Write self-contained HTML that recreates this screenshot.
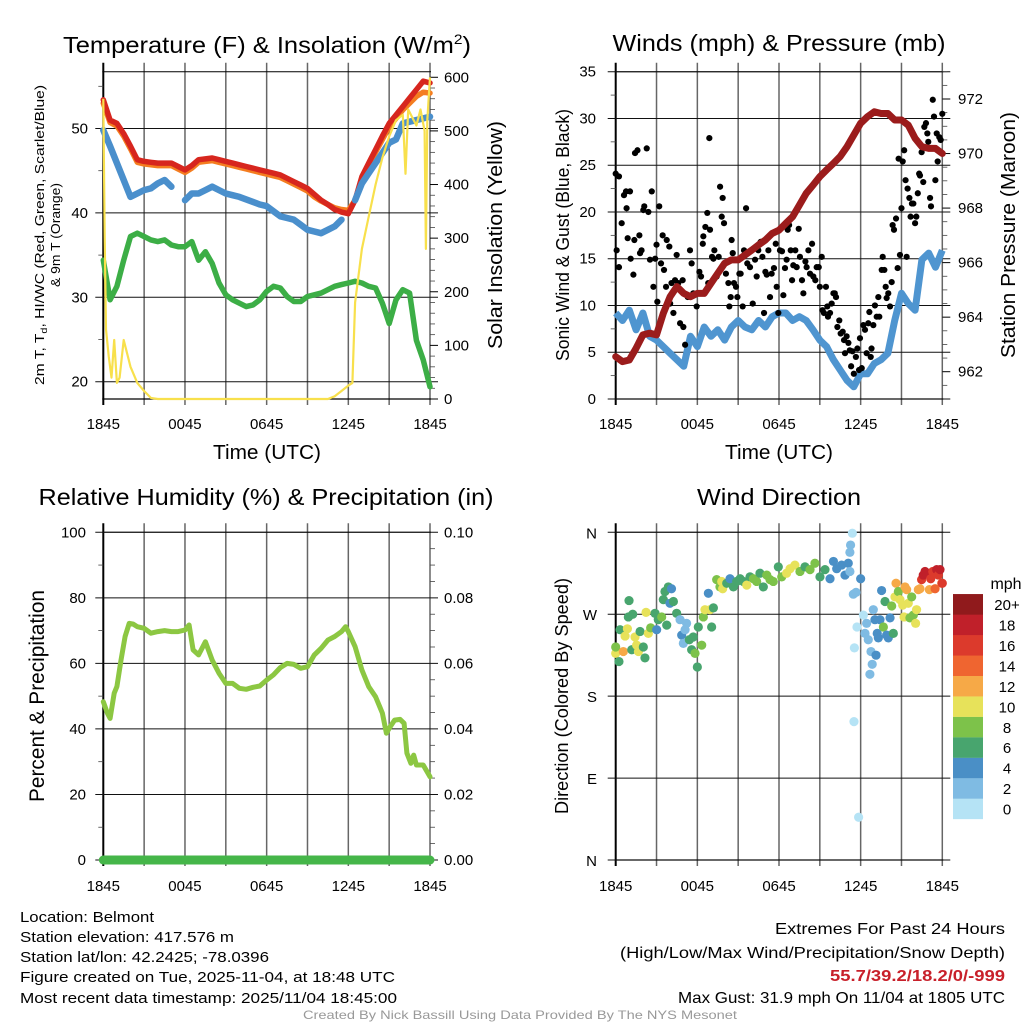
<!DOCTYPE html>
<html><head><meta charset="utf-8"><style>
html,body{margin:0;padding:0;background:#fff;}
svg{display:block;font-family:"Liberation Sans",Arial,sans-serif;}
</style></head><body>
<svg id="fig" width="1024" height="1024" viewBox="0 0 1024 1024" xmlns="http://www.w3.org/2000/svg">
<rect x="0" y="0" width="1024" height="1024" fill="#fff"/>
<!-- titles -->
<text x="267" y="53" font-size="23" text-anchor="middle" textLength="408" lengthAdjust="spacingAndGlyphs">Temperature (F) &amp; Insolation (W/m<tspan font-size="14" dy="-9">2</tspan><tspan dy="9">)</tspan></text>
<text x="779" y="51" font-size="23" text-anchor="middle" textLength="333" lengthAdjust="spacingAndGlyphs">Winds (mph) &amp; Pressure (mb)</text>
<text x="266" y="505" font-size="23" text-anchor="middle" textLength="455" lengthAdjust="spacingAndGlyphs">Relative Humidity (%) &amp; Precipitation (in)</text>
<text x="779" y="505" font-size="23" text-anchor="middle" textLength="164" lengthAdjust="spacingAndGlyphs">Wind Direction</text>
<!-- axis titles -->
<text transform="translate(44,235) rotate(-90)" font-size="13" text-anchor="middle" textLength="300" lengthAdjust="spacingAndGlyphs">2m T, T<tspan font-size="9" dy="3">d</tspan><tspan dy="-3">, HI/WC (Red, Green, Scarlet/Blue)</tspan></text>
<text transform="translate(60,235) rotate(-90)" font-size="13" text-anchor="middle" textLength="104" lengthAdjust="spacingAndGlyphs">&amp; 9m T (Orange)</text>
<text transform="translate(502,235) rotate(-90)" font-size="20" text-anchor="middle" textLength="228" lengthAdjust="spacingAndGlyphs">Solar Insolation (Yellow)</text>
<text transform="translate(569,235) rotate(-90)" font-size="18" text-anchor="middle" textLength="252" lengthAdjust="spacingAndGlyphs">Sonic Wind &amp; Gust (Blue, Black)</text>
<text transform="translate(1015,235) rotate(-90)" font-size="20" text-anchor="middle" textLength="246" lengthAdjust="spacingAndGlyphs">Station Pressure (Maroon)</text>
<text transform="translate(44,696) rotate(-90)" font-size="21" text-anchor="middle" textLength="212" lengthAdjust="spacingAndGlyphs">Percent &amp; Precipitation</text>
<text transform="translate(568,696) rotate(-90)" font-size="18" text-anchor="middle" textLength="236" lengthAdjust="spacingAndGlyphs">Direction (Colored By Speed)</text>
<text x="267" y="459" font-size="20" text-anchor="middle" textLength="108" lengthAdjust="spacingAndGlyphs">Time (UTC)</text>
<text x="779" y="459" font-size="20" text-anchor="middle" textLength="108" lengthAdjust="spacingAndGlyphs">Time (UTC)</text>
<!-- footer -->
<g font-size="15">
<text x="20" y="922" textLength="134" lengthAdjust="spacingAndGlyphs">Location: Belmont</text>
<text x="20" y="942" textLength="214" lengthAdjust="spacingAndGlyphs">Station elevation: 417.576 m</text>
<text x="20" y="962" textLength="249" lengthAdjust="spacingAndGlyphs">Station lat/lon: 42.2425; -78.0396</text>
<text x="20" y="982" textLength="375" lengthAdjust="spacingAndGlyphs">Figure created on Tue, 2025-11-04, at 18:48 UTC</text>
<text x="20" y="1003" textLength="377" lengthAdjust="spacingAndGlyphs">Most recent data timestamp: 2025/11/04 18:45:00</text>
</g>
<g font-size="16" text-anchor="end">
<text x="1005" y="934" textLength="230" lengthAdjust="spacingAndGlyphs">Extremes For Past 24 Hours</text>
<text x="1005" y="958" textLength="385" lengthAdjust="spacingAndGlyphs">(High/Low/Max Wind/Precipitation/Snow Depth)</text>
<text x="1005" y="981" font-weight="bold" fill="#c8202a" textLength="175" lengthAdjust="spacingAndGlyphs">55.7/39.2/18.2/0/-999</text>
<text x="1005" y="1003" textLength="327" lengthAdjust="spacingAndGlyphs">Max Gust: 31.9 mph On 11/04 at 1805 UTC</text>
</g>
<text x="520" y="1019" font-size="12" fill="#999" text-anchor="middle" textLength="434" lengthAdjust="spacingAndGlyphs">Created By Nick Bassill Using Data Provided By The NYS Mesonet</text>
<g id="layer"></g>
</svg>
<script>
// ---------- data ----------
const xTickLabels = ["1845","0045","0645","1245","1845"];
const hrsHalf = [0,0.5,1,1.5,2,2.5,3,3.5,4,4.5,5,5.5,6,6.5,7,7.5,8,8.5,9,9.5,10,10.5,11,11.5,12,12.5,13,13.5,14,14.5,15,15.5,16,16.5,17,17.5,18,18.5,19,19.5,20,20.5,21,21.5,22,22.5,23,23.5,24];
const tempRed = [53.4,51.0,50.6,49.4,47.9,46.3,46.1,46.0,45.9,45.9,45.9,45.5,45.1,45.6,46.3,46.4,46.5,46.3,46.1,45.9,45.7,45.5,45.3,45.1,44.9,44.7,44.5,44.1,43.7,43.3,42.9,42.2,41.5,41.0,40.4,40.1,39.9,41.5,44.3,45.9,47.5,49.1,50.6,51.6,52.6,53.6,54.6,55.6,55.4];
const tempOrange = [53.0,50.7,50.3,49.1,47.6,46.0,45.8,45.7,45.6,45.6,45.6,45.2,44.8,45.3,46.0,46.1,46.2,46.0,45.8,45.6,45.4,45.2,45.0,44.8,44.6,44.4,44.2,43.8,43.4,43.0,42.6,41.9,41.4,41.0,40.6,40.4,40.3,41.5,44.0,45.6,47.2,48.7,50.2,51.2,52.2,53.0,53.8,54.3,54.2];
const tempBlue = [49.8,47.9,45.9,43.9,41.9,42.3,42.7,42.9,43.5,43.9,43.1,null,41.5,42.3,42.3,42.7,43.1,42.7,42.3,42.1,41.9,41.6,41.3,41.0,40.8,40.2,39.6,39.4,39.2,38.6,38.0,37.8,37.6,38.0,38.4,39.2,null,41.5,43.5,44.7,45.9,47.1,48.3,48.7,50.6,50.8,51.0,51.2,51.4];
const dewGreen = [34.4,29.7,31.3,34.4,37.2,37.6,37.2,36.8,36.6,36.8,36.2,36.0,36.0,36.6,34.4,35.4,34.0,31.7,30.3,29.7,29.3,28.9,29.1,29.7,30.7,31.3,31.1,30.1,29.5,29.5,30.1,30.3,30.5,30.9,31.3,31.5,31.7,31.9,31.7,31.3,31.1,29.3,26.9,29.7,30.9,30.5,24.9,22.6,19.4];
const solarHours = [0,0.1,0.2,0.4,0.6,0.8,1,1.2,1.5,1.8,2,2.5,3,3.5,4,16.5,17,17.5,18,18.3,18.5,19,19.5,20,20.5,21,21.5,22,22.2,22.4,23,23.3,23.6,23.7,23.8,24];
const solarWm2 = [560,300,130,80,40,110,30,40,110,80,60,30,15,2,0,0,5,15,25,30,180,280,340,400,450,490,520,530,420,540,510,540,500,280,520,600];
const windSpeed = [9.2,8.4,9.5,7.4,9.2,6.7,6.3,5.6,4.9,4.2,3.5,6.7,5.6,7.7,6.7,7.4,6.3,7.7,8.4,7.7,7.4,8.4,7.7,8.8,9.2,9.2,8.4,8.8,8.4,7.4,6.3,5.6,4.2,3.1,2.0,1.3,2.7,2.7,3.8,4.2,4.9,8.4,11.3,10.2,9.5,14.9,15.6,14.1,15.9];
const pressureMb = [962.55,962.37,962.43,962.86,963.35,963.41,963.35,964.14,964.75,965.12,964.87,964.75,964.87,964.87,965.24,965.61,965.97,966.1,966.1,966.28,966.46,966.65,966.83,967.07,967.19,967.44,967.68,968.11,968.54,968.84,969.15,969.4,969.64,969.89,970.25,970.68,971.11,971.35,971.53,971.47,971.47,971.23,971.23,971.04,970.56,970.25,970.19,970.19,970.0];
const gustHours = [0,0.24,0.07,0.24,0.44,0.61,0.76,0.8,0.88,1.05,1.1,1.3,1.37,1.42,1.6,1.74,1.79,1.9,2.03,2.1,2.28,2.4,2.52,2.65,2.77,2.9,3.0,3.06,3.2,3.33,3.45,3.55,3.7,3.75,3.94,4.0,4.1,4.24,4.36,4.48,4.6,4.73,4.92,4.97,5.1,5.3,5.46,5.58,5.7,5.95,6.15,6.27,6.4,6.44,6.59,6.73,6.8,6.88,6.93,7.08,7.18,7.25,7.42,7.57,7.67,7.79,7.86,7.96,8.1,8.28,8.35,8.45,8.52,8.6,8.69,8.84,8.94,9.09,9.18,9.33,9.43,9.58,9.67,9.87,10.07,10.24,10.36,10.48,10.65,10.78,10.9,11.0,11.1,11.22,11.34,11.46,11.63,11.76,11.83,11.95,12.07,12.22,12.32,12.44,12.56,12.64,12.74,12.86,12.96,13.05,13.2,13.3,13.45,13.54,13.69,13.79,13.94,14.03,14.16,14.28,14.43,14.52,14.67,14.77,14.92,15.0,15.14,15.2,15.3,15.45,15.55,15.6,15.75,15.87,16.0,16.1,16.19,16.29,16.43,16.53,16.68,16.78,16.85,16.97,17.1,17.2,17.3,17.4,17.5,17.65,17.76,17.88,17.95,18.08,18.2,18.32,18.44,18.56,18.64,18.74,18.8,18.93,19.05,19.18,19.3,19.37,19.55,19.62,19.74,19.84,19.91,20.03,20.16,20.28,20.35,20.45,20.6,20.72,20.79,20.89,21.0,21.09,21.2,21.3,21.38,21.45,21.58,21.67,21.77,21.87,22.0,22.09,22.2,22.3,22.36,22.48,22.6,22.68,22.8,22.9,22.97,23.1,23.17,23.3,23.39,23.49,23.59,23.66,23.78,23.88,24.0];
const gustMph = [24.1,23.8,15.9,14.1,18.8,21.8,22.2,20.4,17.2,22.2,15.0,13.3,17.0,26.3,26.6,17.5,15.6,15.9,20.2,20.6,26.8,20.0,14.9,22.2,12.0,15.0,16.5,10.4,20.6,14.5,17.5,13.8,12.0,17.0,16.3,10.2,12.4,9.2,12.7,15.4,12.4,8.1,12.7,7.7,5.8,10.9,15.9,14.5,11.3,9.9,13.6,13.1,16.6,17.4,18.4,19.9,12.4,27.9,18.1,15.2,15.0,15.9,13.1,15.2,22.7,19.5,21.5,18.8,13.4,12.4,9.9,10.9,17.0,15.6,12.4,12.0,10.9,13.4,13.4,9.9,15.9,20.4,14.5,14.1,10.2,14.9,13.1,15.9,16.8,15.2,9.2,13.6,13.3,15.9,10.9,13.4,14.0,16.6,12.0,9.2,15.9,15.8,11.1,14.0,14.9,18.1,18.6,15.9,12.7,14.3,15.9,14.1,18.2,15.2,12.7,11.3,14.7,14.1,15.9,13.4,16.6,13.1,12.7,14.1,14.1,12.0,15.2,9.5,9.2,12.0,9.9,8.8,9.2,10.2,11.3,11.3,10.9,7.7,8.4,7.0,7.2,6.3,4.9,6.7,6.0,5.2,3.5,5.1,2.7,4.5,5.4,3.1,6.5,3.3,7.9,7.4,4.9,8.1,9.3,4.5,5.4,7.9,10.0,8.8,10.9,8.8,13.8,15.2,13.8,12.0,10.8,11.3,9.9,12.5,18.6,18.1,19.3,14.0,25.7,15.4,20.4,25.4,26.6,23.4,15.2,22.5,21.5,19.5,20.9,20.9,18.8,19.5,22.0,24.1,23.9,26.4,23.2,29.1,29.5,28.4,27.5,21.5,20.6,32.0,30.2,23.4,28.4,25.4,28.0,27.7,30.5];
const rhHours = [0,0.3,0.5,0.8,1,1.3,1.6,1.9,2.2,2.5,3,3.5,4,4.5,5,5.5,6,6.3,6.6,7,7.5,8,8.5,9,9.5,10,10.5,11,11.5,12,12.5,13,13.5,14,14.5,15,15.5,16,16.5,17,17.5,17.8,18,18.5,19,19.5,20,20.5,20.8,21,21.4,21.8,22.1,22.3,22.6,22.8,23,23.5,24];
const rhPct = [48.3,44.8,43.2,50.9,52.9,61,68.2,72.2,72,71.2,70.7,69.2,69.7,70,69.7,69.7,70.2,71.7,64.1,62.6,66.6,61,57,53.9,53.9,52.4,52.1,52.7,53.1,54.9,56.5,58.7,60,59.7,58.5,59,62.6,64.6,67.1,68.2,69.7,71.2,69.7,65.1,58,52.9,49.8,44.8,38.7,40.2,42.7,42.9,41.7,32.6,29.5,32,29,29,25.4];
const precipHours = [0,24];
const precipIn = [0,0];
const dirHours = [0,0,0.24,0.32,0.56,0.69,0.86,0.98,0.93,1.25,1.18,1.42,1.54,1.67,1.79,2.03,2.15,2.23,2.4,2.57,2.89,3.01,3.13,3.38,3.5,3.62,3.75,3.87,3.99,4.1,4.24,4.48,4.73,4.85,4.97,5.1,5.21,5.41,5.58,5.7,5.83,6.0,6.07,6.32,6.44,6.56,6.81,6.93,7.05,7.18,7.42,7.66,7.79,7.86,8.16,8.4,8.65,8.89,9.14,9.38,9.63,9.87,10.12,10.36,10.6,10.85,11.1,11.34,11.58,11.95,12.2,12.56,12.81,13.17,13.54,13.91,14.28,14.64,15.01,15.38,15.75,16.0,16.24,16.6,16.85,17.09,17.21,17.21,17.26,17.39,17.46,17.66,18.0,17.54,17.73,17.51,17.85,18.2,18.32,18.44,18.56,18.68,18.76,18.85,18.93,19.05,19.13,19.22,19.3,19.42,19.54,19.67,19.79,19.91,20.03,20.16,20.28,20.4,20.52,20.6,20.77,20.89,21.09,21.19,21.26,21.38,21.5,21.62,21.75,21.87,22.04,22.11,22.24,22.36,22.48,22.6,22.73,22.85,23.05,23.15,23.3,23.47,23.59,23.71,23.83,23.96,24.0];
const dirDeg = [227,234,218,253,229,246,254,285,267,270,231,245,236,229,251,234,222,272,249,255,271,253,264,267,286,295,258,300,282,298,284,271,264,247,238,253,260,242,231,245,227,212,256,236,267,275,293,275,256,277,308,300,306,298,304,309,300,306,309,306,302,311,309,306,315,300,313,308,306,322,311,315,320,324,317,322,319,326,311,319,309,328,320,324,313,326,317,338,346,359,292,294,309,233,256,152,47,269,249,260,242,204,229,215,275,264,225,249,244,264,296,256,284,247,244,266,279,249,289,304,295,286,280,267,300,297,282,266,289,269,260,275,297,298,308,313,317,315,297,309,317,298,319,313,319,304,304];
const dirSpeed = [10,9,7,7,12,10,10,7,6,6,6,10,10,10,6,6,7,10,10,8,6,4,7,8,6,7,6,6,4,4,6,6,2,4,2,2,2,6,6,6,8,6,6,8,8,10,4,10,6,6,8,8,10,10,6,4,6,6,6,6,10,6,8,8,6,6,8,8,8,6,8,10,10,10,8,6,8,8,6,6,4,4,4,4,4,4,2,2,2,0,2,2,4,0,0,0,0,0,2,2,2,2,2,2,2,4,4,4,4,4,4,8,6,4,4,4,8,6,10,12,8,10,10,10,12,12,10,8,8,8,10,10,12,12,16,18,18,18,12,16,16,14,18,16,18,14,16];
const speedBinLabels = ["0","2","4","6","8","10","12","14","16","18","20+"];
const speedBinColors = ["#b5e3f5","#7fbbe3","#4a8fc6","#48a56e","#7dc24a","#e7e25a","#f6a947","#ef6530","#dc3a2c","#c0202a","#901a1c"];

// ---------- helpers ----------
const NS="http://www.w3.org/2000/svg";
const layer=document.getElementById('layer');
function mk(tag,attrs,parent){const e=document.createElementNS(NS,tag);for(const k in attrs)e.setAttribute(k,attrs[k]);(parent||layer).appendChild(e);return e;}
const LP={L:103.3,R:430}, RP={L:615.7,R:942.3};
function xsL(h){return LP.L+h/24*(LP.R-LP.L);}
function xsR(h){return RP.L+h/24*(RP.R-RP.L);}
function yTemp(t){return 381.7-(t-20)*8.44;}
function ySolar(w){return 399-w*0.5362;}
function yWind(m){return 399-m*9.351;}
function yPres(p){return 371.7-(p-962)*27.27;}
function yRH(r){return 860-r*3.277;}
function yPrec(v){return 860-v*3277;}
function yDir(d){return 860-d*(327.7/360);}

function frame(P,top,bot,name){
  const g=mk('g',{});
  
  
  for(let i=0;i<=8;i++){
    const x=P.L+i*(P.R-P.L)/8;
    const l=mk('line',{x1:x,x2:x,y1:top-9,y2:bot+6,stroke:(i==0?'#000':'#666'),'stroke-width':(i==0?2:1.5)},g);
    
    
  }
  mk('line',{x1:P.L-1,x2:P.R+1,y1:top,y2:top,stroke:'#000','stroke-width':1},g);
  mk('line',{x1:P.L-1,x2:P.R+1,y1:bot,y2:bot,stroke:'#000','stroke-width':1.2},g);
  return g;
}
function hline(P,y,g){mk('line',{x1:P.L-8,x2:P.R+8,y1:y,y2:y,stroke:'#111','stroke-width':1},g);}
function minorL(P,y,g){mk('line',{x1:P.L-5,x2:P.L,y1:y,y2:y,stroke:'#444','stroke-width':0.8},g);}
function minorR(P,y,g){mk('line',{x1:P.R,x2:P.R+5,y1:y,y2:y,stroke:'#444','stroke-width':0.8},g);}
function txt(x,y,s,size,anchor,name,g){const t=mk('text',{x:x,y:y,'font-size':size,'text-anchor':anchor},g);t.textContent=s;return t;}
function xTicks(P,y,g,name){xTickLabels.forEach((s,i)=>{txt(P.L+i*(P.R-P.L)/4,y,s,15,'middle',name,g);});}
function pathFrom(hs,vs,xf,yf){let d='',pen=false;for(let i=0;i<hs.length;i++){if(vs[i]==null){pen=false;continue;}d+=(pen?'L':'M')+xf(hs[i]).toFixed(1)+','+yf(vs[i]).toFixed(1);pen=true;}return d;}

// ---------- panel 1 ----------
let g1=frame(LP,71.7,399,'temperature');
[20,30,40,50].forEach(v=>{hline(LP,yTemp(v),g1);txt(88,yTemp(v)+5,String(v),15,'end','temperature-tick-label',g1);});
[25,35,45,55].forEach(v=>minorL(LP,yTemp(v),g1));
for(let w=0;w<=600;w+=20){ if(w%100==0){mk('line',{x1:LP.R,x2:LP.R+8,y1:ySolar(w),y2:ySolar(w),stroke:'#000'},g1);txt(444,ySolar(w)+5,String(w),15,'start','insolation-tick-label',g1);} else minorR(LP,ySolar(w),g1);}
xTicks(LP,429,g1,'time-tick-label');
let s;
s=mk('path',{d:pathFrom(hrsHalf,tempOrange,xsL,yTemp),fill:'none',stroke:'#f47d20','stroke-width':5.5,'stroke-linejoin':'round','stroke-linecap':'round'});


s=mk('path',{d:pathFrom(hrsHalf,tempRed,xsL,yTemp),fill:'none',stroke:'#d7261e','stroke-width':5.5,'stroke-linejoin':'round','stroke-linecap':'round'});


s=mk('path',{d:pathFrom(hrsHalf,tempBlue,xsL,yTemp),fill:'none',stroke:'#4a8fcc','stroke-width':6.5,'stroke-linejoin':'round','stroke-linecap':'round'});


s=mk('path',{d:pathFrom(hrsHalf,dewGreen,xsL,yTemp),fill:'none',stroke:'#3cae46','stroke-width':5.5,'stroke-linejoin':'round','stroke-linecap':'round'});


s=mk('path',{d:pathFrom(solarHours,solarWm2,xsL,ySolar),fill:'none',stroke:'#f8e04c','stroke-width':2.2,'stroke-linejoin':'round'});



// ---------- panel 2 ----------
let g2=frame(RP,71.7,399,'winds');
[0,5,10,15,20,25,30,35].forEach(v=>{hline(RP,yWind(v),g2);txt(596,yWind(v)+5,String(v),15,'end','wind-tick-label',g2);});
[2.5,7.5,12.5,17.5,22.5,27.5,32.5].forEach(v=>minorL(RP,yWind(v),g2));
for(let p=961.5;p<=973;p+=0.5){ if(Math.abs(p-Math.round(p))<0.01 && Math.round(p)%2==0){mk('line',{x1:RP.R,x2:RP.R+8,y1:yPres(p),y2:yPres(p),stroke:'#000'},g2);txt(958,yPres(p)+5,String(p),15,'start','pressure-tick-label',g2);} else if(yPres(p)>=71&&yPres(p)<=399) minorR(RP,yPres(p),g2);}
xTicks(RP,429,g2,'time-tick-label');
s=mk('path',{d:pathFrom(hrsHalf,windSpeed,xsR,yWind),fill:'none',stroke:'#4f95d0','stroke-width':7,'stroke-linejoin':'round'});


gustHours.forEach((h,i)=>{const c=mk('circle',{cx:xsR(h),cy:yWind(gustMph[i]),r:3.1,fill:'#000'});

});
s=mk('path',{d:pathFrom(hrsHalf,pressureMb,xsR,yPres),fill:'none',stroke:'#9b1c1c','stroke-width':7,'stroke-linejoin':'round','stroke-linecap':'round'});



// ---------- panel 3 ----------
let g3=frame(LP,532.3,860,'humidity');
[0,20,40,60,80,100].forEach(v=>{hline(LP,yRH(v),g3);txt(86,yRH(v)+5,String(v),15,'end','humidity-tick-label',g3);txt(444,yRH(v)+5,(v/1000).toFixed(2),15,'start','precip-tick-label',g3);});
for(let v=10;v<100;v+=20){minorL(LP,yRH(v),g3);}
for(let v=5;v<100;v+=5){if(v%20)minorR(LP,yRH(v),g3);}
xTicks(LP,891,g3,'time-tick-label');
s=mk('path',{d:pathFrom(rhHours,rhPct,xsL,yRH),fill:'none',stroke:'#8cc742','stroke-width':5,'stroke-linejoin':'round','stroke-linecap':'round'});


s=mk('path',{d:pathFrom(precipHours,precipIn,xsL,yPrec),fill:'none',stroke:'#45b649','stroke-width':9,'stroke-linecap':'round'});



// ---------- panel 4 ----------
let g4=frame(RP,532.3,860,'direction');
const dirLabels=["N","E","S","W","N"];
[0,90,180,270,360].forEach((d,i)=>{hline(RP,yDir(d),g4);txt(597,yDir(d)+6,dirLabels[i],15,'end','direction-tick-label',g4);});
xTicks(RP,891,g4,'time-tick-label');
dirHours.forEach((h,i)=>{const b=Math.min(10,Math.floor(dirSpeed[i]/2));const c=mk('circle',{cx:xsR(h),cy:yDir(dirDeg[i]),r:4.6,fill:speedBinColors[b]});

});
// colorbar
const cb=mk('g',{});


txt(1006,589,'mph',16,'middle','colorbar-title',cb);
speedBinLabels.forEach((lab,i)=>{const top=819-(i+1)*20.45;const r=mk('rect',{x:953,y:top,width:30,height:20.6,fill:speedBinColors[i]},cb);


txt(1007,top+16,lab,15,'middle','colorbar-label',cb);});
</script>
</body></html>
